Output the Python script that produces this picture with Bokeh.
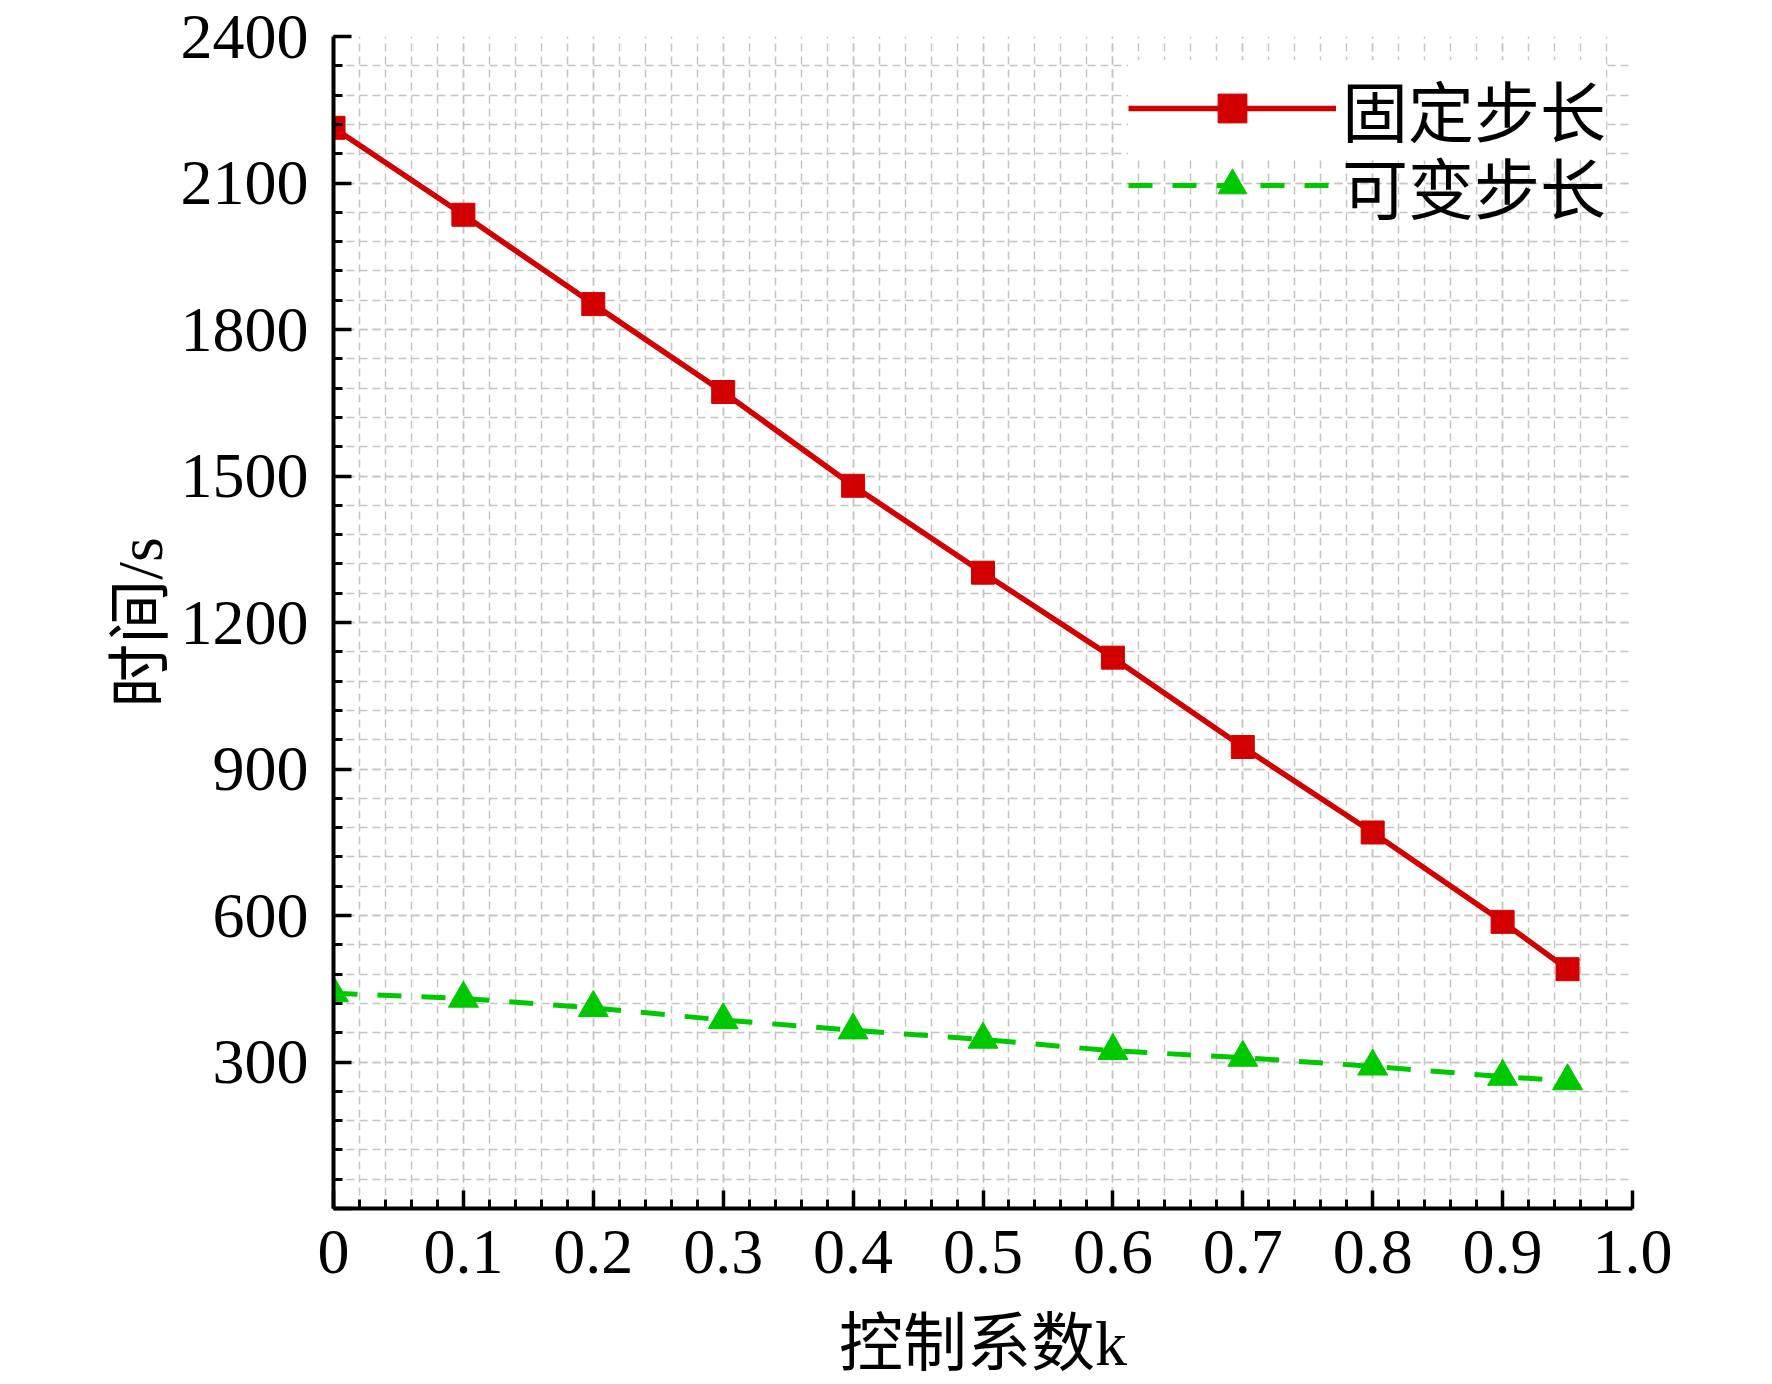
from bokeh.plotting import figure
from bokeh.models import Range1d, FixedTicker, Legend, LegendItem
from bokeh.embed import file_html
from bokeh.resources import INLINE

# ---- data ----
k_values = [0, 0.1, 0.2, 0.3, 0.4, 0.5, 0.6, 0.7, 0.8, 0.9, 0.95]
fixed_step = [2213, 2035, 1852, 1672, 1480, 1302, 1128, 945, 770, 587, 490]
variable_step = [441, 430, 411, 386, 365, 346, 323, 309, 291, 270, 261]
series_names = ["固定步长", "可变步长"]

x_ticks = [0, 0.1, 0.2, 0.3, 0.4, 0.5, 0.6, 0.7, 0.8, 0.9, 1.0]
x_tick_labels = ["0", "0.1", "0.2", "0.3", "0.4", "0.5", "0.6", "0.7", "0.8", "0.9", "1.0"]
y_ticks = [0, 300, 600, 900, 1200, 1500, 1800, 2100, 2400]
y_tick_labels = ["", "300", "600", "900", "1200", "1500", "1800", "2100", "2400"]
x_label = "控制系数k"
y_label = "时间/s"

x_minor = [round(i * 0.02, 2) for i in range(51)]
y_minor = list(range(0, 2401, 60))

RED = "#d20000"
GREEN = "#00c800"
GRID = "#c4c4c4"
SERIF = "'Liberation Serif', 'Noto Sans CJK SC'"

p = figure(width=1764, height=1384,
           x_range=Range1d(0, 1.0), y_range=Range1d(0, 2400),
           output_backend="svg", toolbar_location=None,
           min_border_left=333, min_border_right=132,
           min_border_top=36, min_border_bottom=176)
p.outline_line_color = None
p.background_fill_color = "white"

xt = FixedTicker(ticks=x_ticks, minor_ticks=x_minor)
yt = FixedTicker(ticks=y_ticks, minor_ticks=y_minor)

for ax, tk, labels, ticks in ((p.xaxis[0], xt, x_tick_labels, x_ticks),
                              (p.yaxis[0], yt, y_tick_labels, y_ticks)):
    ax.ticker = tk
    ax.major_label_overrides = {t: l for t, l in zip(ticks, labels)}
    ax.major_tick_in = 18
    ax.major_tick_out = 0
    ax.minor_tick_in = 9
    ax.minor_tick_out = 0
    ax.axis_line_width = 4
    ax.axis_line_color = "black"
    ax.major_tick_line_width = 3.5
    ax.minor_tick_line_width = 3
    ax.major_label_text_font = "Liberation Serif"
    ax.major_label_text_font_size = "64px"
    ax.major_label_text_color = "black"
    ax.axis_label_text_font = SERIF
    ax.axis_label_text_font_style = "normal"
    ax.axis_label_text_font_size = "64px"
    ax.axis_label_text_color = "black"

p.xaxis.major_label_standoff = 22
p.yaxis.major_label_standoff = 25
p.xaxis.axis_label = x_label
p.xaxis.axis_label_standoff = 32
p.yaxis.axis_label = y_label
p.yaxis.axis_label_standoff = 2

for g, tk in ((p.xgrid[0], xt), (p.ygrid[0], yt)):
    g.ticker = tk
    g.grid_line_color = GRID
    g.grid_line_dash = "8 5"
    g.grid_line_width = 1.5
    g.minor_grid_line_color = GRID
    g.minor_grid_line_dash = "8 5"
    g.minor_grid_line_width = 1.5

r1 = p.line(k_values, fixed_step, line_color=RED, line_width=5.5)
s1 = p.scatter(k_values, fixed_step, marker="square", size=23,
               fill_color=RED, line_color=RED)
r2 = p.line(k_values, variable_step, line_color=GREEN, line_width=5,
            line_dash="24 20")
s2 = p.scatter(k_values, variable_step, marker="triangle", size=30,
               fill_color=GREEN, line_color=GREEN)

legend_style = dict(orientation="vertical",
                    label_text_font=SERIF, label_text_font_size="66px",
                    label_text_color="black",
                    glyph_width=208, glyph_height=72, label_height=72,
                    label_standoff=6, spacing=0, padding=70, margin=0,
                    border_line_color=None)
# first entry carries the white backdrop of the whole legend block
legend_a = Legend(items=[LegendItem(label=series_names[0], renderers=[r1, s1])],
                  location=(795, 1052), background_fill_color="white",
                  background_fill_alpha=1.0, **legend_style)
legend_b = Legend(items=[LegendItem(label=series_names[1], renderers=[r2, s2])],
                  location=(795, 975), background_fill_color="white",
                  background_fill_alpha=0.0, **legend_style)
p.add_layout(legend_a)
p.add_layout(legend_b)

open("out.html", "w").write(file_html(p, INLINE))
